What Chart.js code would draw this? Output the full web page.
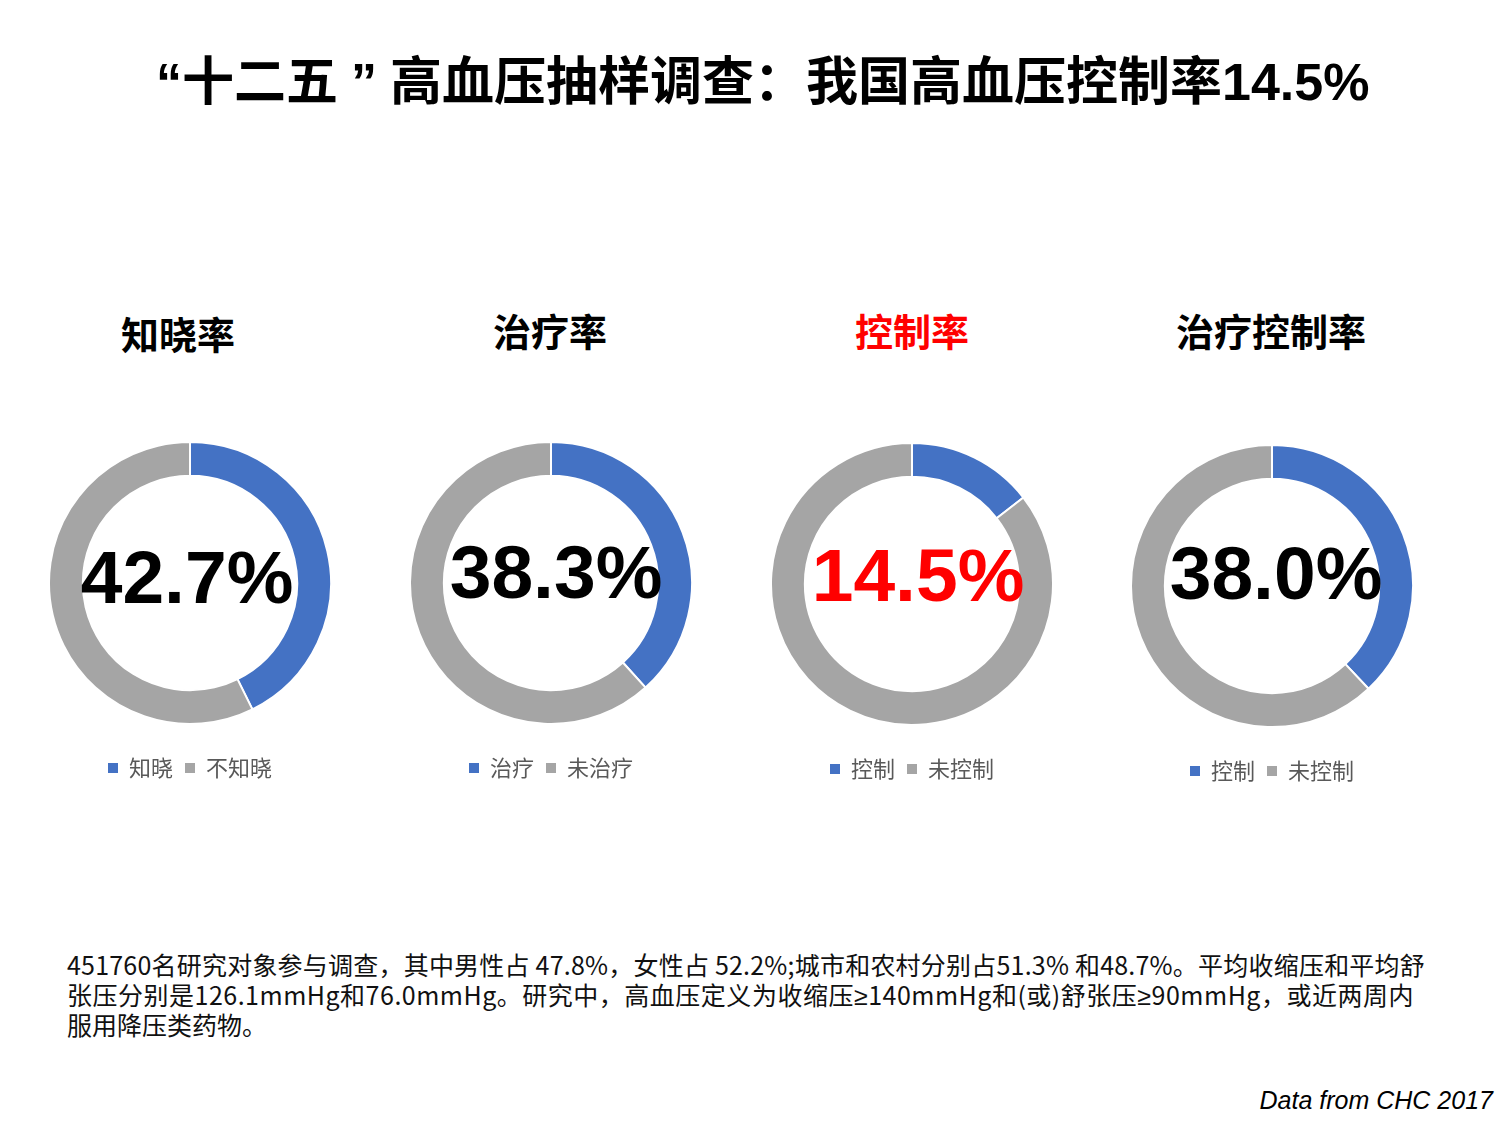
<!DOCTYPE html>
<html><head><meta charset="utf-8">
<script src="https://cdn.jsdelivr.net/npm/chart.js@4.4.0/dist/chart.umd.min.js"></script>
<style>
html,body{margin:0;padding:0;background:#fff;}
body{width:1500px;height:1125px;position:relative;overflow:hidden;font-family:"Noto Sans CJK SC","Liberation Sans",sans-serif;}
.title{position:absolute;left:156px;top:46px;font-family:"Noto Sans CJK SC";font-weight:bold;font-size:52px;line-height:64px;color:#000;white-space:nowrap;}
.title .lat{font-family:"Liberation Sans";}
.sub{position:absolute;width:400px;text-align:center;font-family:"Noto Sans CJK SC";font-weight:bold;font-size:38px;line-height:50px;white-space:nowrap;}
.box{position:absolute;}
.note{position:absolute;left:67px;font-family:"Noto Sans CJK SC";font-size:25px;line-height:30px;color:#111;white-space:nowrap;}
.note .ge{font-family:"Liberation Sans";}
.src{position:absolute;right:7px;top:1086px;font-family:"Liberation Sans";font-style:italic;font-size:25px;color:#000;}
</style></head>
<body>
<div class="title"><span class="lat">“</span>十二五<span class="lat" style="margin-left:13px;margin-right:13px">”</span>高血压抽样调查：我国高血压控制率<span class="lat">14.5%</span></div>
<div id="subs"></div>
<div id="charts"></div>
<div class="note" id="n1" style="top:949px">451760名研究对象参与调查，其中男性占 47.8%，女性占 52.2%;城市和农村分别占51.3% 和48.7%。平均收缩压和平均舒</div>
<div class="note" id="n2" style="top:979px">张压分别是126.1mmHg和76.0mmHg。研究中，高血压定义为收缩压<span class="ge">≥</span>140mmHg和(或)舒张压<span class="ge">≥</span>90mmHg，或近两周内</div>
<div class="note" id="n3" style="top:1009px">服用降压类药物。</div>
<div class="src">Data from CHC 2017</div>
<script>
const chartTitles = ["知晓率", "治疗率", "控制率", "治疗控制率"];
const yesLabels = ["知晓", "治疗", "控制", "控制"];
const noLabels = ["不知晓", "未治疗", "未控制", "未控制"];
const yesValues = [42.7, 38.3, 14.5, 38.0];
const noValues = [57.3, 61.7, 85.5, 62.0];
const centerLabels = ["42.7%", "38.3%", "14.5%", "38.0%"];
const highlight = [false, false, true, false];

// fit footnote lines to the reference widths
[["n1", 1358], ["n2", 1347]].forEach(([id, target]) => {
  const el = document.getElementById(id);
  const w = el.getBoundingClientRect().width;
  const n = el.textContent.length;
  el.style.letterSpacing = ((target - w) / n) + 'px';
});

const layout = [
  {cx:190, cy:583, tx:178, ty:333, ox:-3, oy:-1},
  {cx:551, cy:583, tx:550, ty:330, ox:5, oy:-6},
  {cx:912, cy:584, tx:912, ty:330, ox:6, oy:-4},
  {cx:1272, cy:586, tx:1271, ty:330, ox:4, oy:-8}
];
const BLUE = "#4472C4", GRAY = "#A5A5A5";
const W = 284, H = 368;

chartTitles.forEach((t, i) => {
  const L = layout[i];
  const s = document.createElement('div');
  s.className = 'sub';
  s.textContent = t;
  s.style.left = (L.tx - 200) + 'px';
  s.style.top = (L.ty - 25) + 'px';
  s.style.color = highlight[i] ? '#FF0000' : '#000';
  document.getElementById('subs').appendChild(s);

  const d = document.createElement('div');
  d.className = 'box';
  d.style.left = (L.cx - W/2) + 'px';
  d.style.top = (L.cy - 162) + 'px';
  d.style.width = W + 'px';
  d.style.height = H + 'px';
  const c = document.createElement('canvas');
  d.appendChild(c);
  document.getElementById('charts').appendChild(d);

  const centerText = {
    id: 'centerText',
    afterDatasetsDraw(chart) {
      const arc = chart.getDatasetMeta(0).data[0];
      const ctx = chart.ctx;
      ctx.save();
      ctx.font = 'bold 75px "Liberation Sans", Arial, sans-serif';
      ctx.fillStyle = highlight[i] ? '#FF0000' : '#000';
      ctx.textAlign = 'center';
      ctx.textBaseline = 'middle';
      ctx.fillText(centerLabels[i], arc.x + L.ox, arc.y + L.oy);
      ctx.restore();
    }
  };

  new Chart(c, {
    type: 'doughnut',
    data: {
      labels: [yesLabels[i], noLabels[i]],
      datasets: [{
        data: [yesValues[i], noValues[i]],
        backgroundColor: [BLUE, GRAY],
        borderColor: '#fff',
        borderWidth: 2
      }]
    },
    options: {
      responsive: true,
      maintainAspectRatio: false,
      animation: false,
      cutout: '76%',
      layout: {padding: 0},
      plugins: {
        tooltip: {enabled: false},
        legend: {
          position: 'bottom',
          labels: {
            boxWidth: 10, boxHeight: 10, padding: 12,
            color: '#595959',
            font: {family: '"Noto Sans CJK SC"', size: 22},
            generateLabels(chart) {
              return Chart.overrides.doughnut.plugins.legend.labels.generateLabels(chart)
                .map(it => Object.assign(it, {lineWidth: 0, strokeStyle: 'rgba(0,0,0,0)'}));
            }
          }
        }
      }
    },
    plugins: [centerText]
  });
});
</script>
</body></html>
